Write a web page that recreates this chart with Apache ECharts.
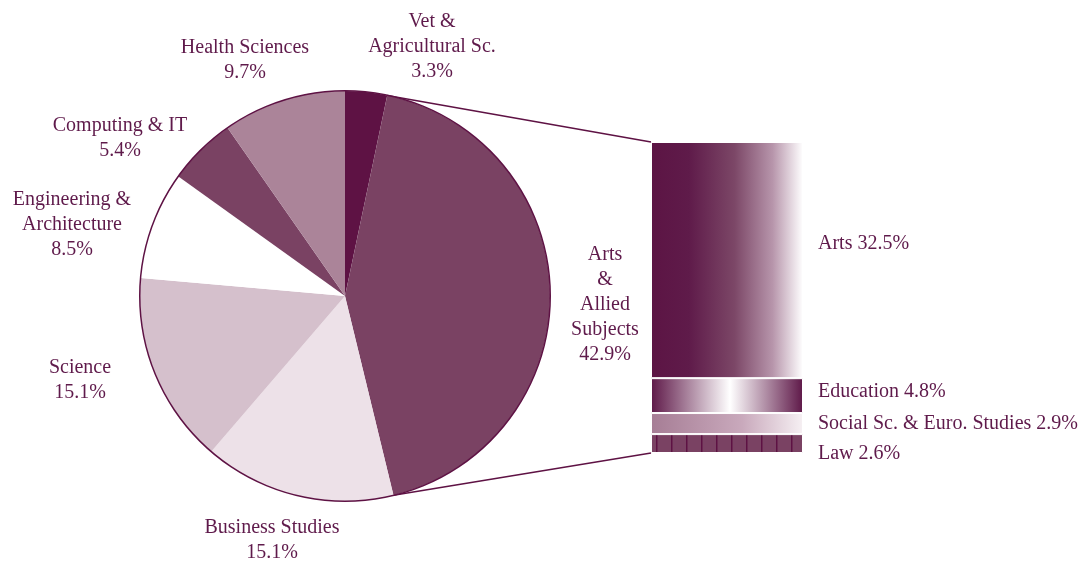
<!DOCTYPE html>
<html>
<head>
<meta charset="utf-8">
<script src="https://cdn.jsdelivr.net/npm/echarts@6/dist/echarts.min.js"></script>
<style>
  html, body { margin: 0; padding: 0; background: #fff; }
  #main { width: 1085px; height: 565px; }
</style>
</head>
<body>
<div id="main"></div>
<script>
// pie: subject areas, clockwise from 12 o'clock
var pieNames = ['Vet &\nAgricultural Sc.', 'Arts\n&\nAllied\nSubjects', 'Business Studies', 'Science',
  'Engineering &\nArchitecture', 'Computing & IT', 'Health Sciences'];
var pieValues = [3.3, 42.9, 15.1, 15.1, 8.5, 5.4, 9.7];

// breakdown of Arts & Allied Subjects (bottom to top)
var barNames = ['Law', 'Social Sc. & Euro. Studies', 'Education', 'Arts'];
var barValues = [2.6, 2.9, 4.8, 32.5];

var textColor = '#5f1a4b';
var dark = '#5e1244';
var font = '"Liberation Serif", "DejaVu Serif", serif';

var cx = 345, cy = 296, R = 205;
var pieColors = ['#5e1244', '#7a4263', '#ede1e8', '#d5c0cc', '#ffffff', '#7a4263', '#ab8499'];
// label centre offsets from the pie centre
var labelSpots = [[87, -249], [260, 9], [-73, 244], [-265, 84], [-273, -71], [-225, -158], [-100, -236]];

var gridBox = { left: 651, top: 142, width: 152, height: 311 };
var barLabelShift = [10, 0, -4, -16];

function lawPattern() {
  var c = document.createElement('canvas');
  c.width = 15; c.height = 10;
  var g = c.getContext('2d');
  g.fillStyle = '#7a4263';
  g.fillRect(0, 0, 15, 10);
  g.fillStyle = '#5e1244';
  g.fillRect(11, 0, 1.5, 10);
  return { image: c, repeat: 'repeat' };
}

var barColors = [
  lawPattern(),
  new echarts.graphic.LinearGradient(0, 0, 1, 0, [
    { offset: 0, color: '#a67d95' }, { offset: 0.6, color: '#c9a9bc' }, { offset: 1, color: '#f6f0f3' }]),
  new echarts.graphic.LinearGradient(0, 0, 1, 0, [
    { offset: 0, color: '#5e1848' }, { offset: 0.52, color: '#ffffff' }, { offset: 1, color: '#5e1848' }]),
  new echarts.graphic.LinearGradient(0, 0, 1, 0, [
    { offset: 0, color: '#5c1444' }, { offset: 0.25, color: '#5f1b4a' }, { offset: 0.55, color: '#7c4767' },
    { offset: 0.8, color: '#b795ab' }, { offset: 1, color: '#ffffff' }])
];

var total = barValues.reduce(function (a, b) { return a + b; }, 0);

var barSeries = barNames.map(function (n, i) {
  return {
    type: 'bar',
    name: n,
    stack: 'arts',
    barWidth: '100%',
    silent: true,
    data: [barValues[i]],
    itemStyle: { color: barColors[i], borderColor: '#fff', borderWidth: 1 },
    label: {
      show: true,
      position: 'right',
      distance: 15,
      offset: [0, barLabelShift[i]],
      color: textColor,
      fontFamily: font,
      fontSize: 20,
      formatter: n + ' ' + barValues[i].toFixed(1) + '%'
    }
  };
});

var chart = echarts.init(document.getElementById('main'));
chart.setOption({
  animation: false,
  grid: { left: gridBox.left, top: gridBox.top, width: gridBox.width, height: gridBox.height },
  xAxis: { type: 'category', data: ['Arts & Allied Subjects'], show: false },
  yAxis: { type: 'value', min: 0, max: total, show: false },
  series: [
    {
      type: 'pie',
      center: [cx, cy],
      radius: R,
      startAngle: 90,
      clockwise: true,
      silent: true,
      avoidLabelOverlap: false,
      data: pieNames.map(function (n, i) {
        return { name: n, value: pieValues[i], itemStyle: { color: pieColors[i] } };
      }),
      itemStyle: { borderWidth: 0 },
      label: {
        position: 'outside',
        color: textColor,
        fontFamily: font,
        fontSize: 20,
        lineHeight: 25,
        formatter: function (p) { return p.name + '\n' + p.value.toFixed(1) + '%'; }
      },
      labelLine: { show: false },
      labelLayout: function (p) {
        var d = labelSpots[p.dataIndex];
        return { x: cx + d[0], y: cy + d[1], align: 'center', verticalAlign: 'middle' };
      }
    },
    {
      type: 'pie',
      center: [cx, cy],
      radius: [R - 0.5, R + 1],
      silent: true,
      label: { show: false },
      labelLine: { show: false },
      data: [{ value: 1, itemStyle: { color: dark } }]
    }
  ].concat(barSeries)
});

// connector lines from the Arts slice edges to the stacked bar
var pieSum = pieValues.reduce(function (a, b) { return a + b; }, 0);
var a0 = pieValues[0] / pieSum * Math.PI * 2;
var a1 = (pieValues[0] + pieValues[1]) / pieSum * Math.PI * 2;
var topPx = chart.convertToPixel({ xAxisIndex: 0, yAxisIndex: 0 }, [0, total]);
var botPx = chart.convertToPixel({ xAxisIndex: 0, yAxisIndex: 0 }, [0, 0]);
chart.setOption({
  graphic: [
    { type: 'line', silent: true, shape: { x1: cx + R * Math.sin(a0), y1: cy - R * Math.cos(a0), x2: gridBox.left, y2: topPx[1] },
      style: { stroke: dark, lineWidth: 1.5 } },
    { type: 'line', silent: true, shape: { x1: cx + R * Math.sin(a1), y1: cy - R * Math.cos(a1), x2: gridBox.left, y2: botPx[1] },
      style: { stroke: dark, lineWidth: 1.5 } }
  ]
});
</script>
</body>
</html>
